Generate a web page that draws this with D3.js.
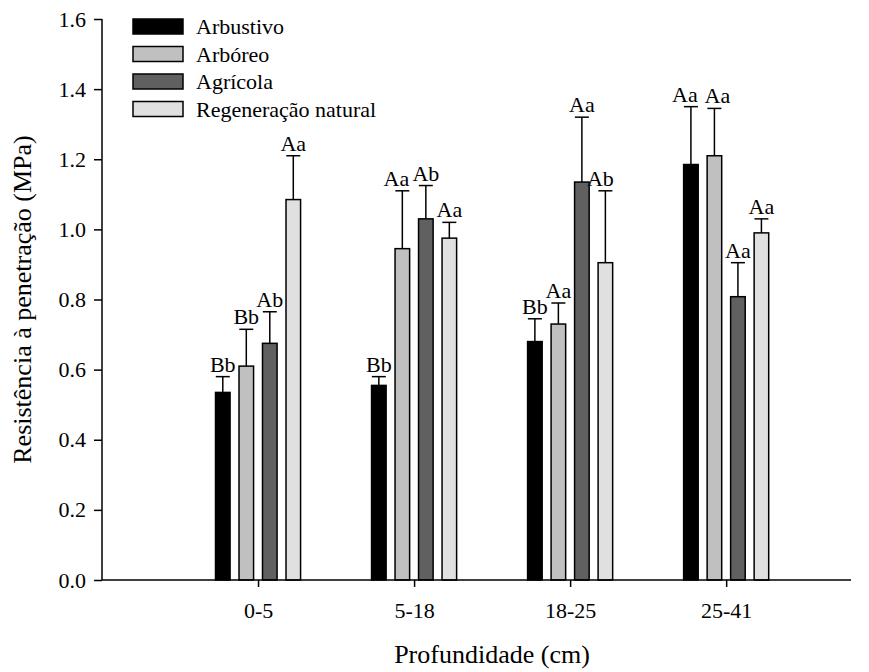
<!DOCTYPE html>
<html>
<head>
<meta charset="utf-8">
<script src="https://cdn.jsdelivr.net/npm/d3@7"></script>
<style>
  html, body { margin: 0; padding: 0; background: #fff; }
  svg text { font-family: "Liberation Serif", "Tinos", "DejaVu Serif", serif !important; fill: #000; }
</style>
</head>
<body>
<svg id="chart" width="869" height="672"></svg>
<script>
// ---- data ----
const categories = ["0-5", "5-18", "18-25", "25-41"];
const series = ["Arbustivo", "Arbóreo", "Agrícola", "Regeneração natural"];
const colors = ["#000000", "#c0c0c0", "#606060", "#e0e0e0"];
const arbustivo   = [0.535, 0.555, 0.680, 1.185];
const arboreo     = [0.610, 0.945, 0.730, 1.210];
const agricola    = [0.675, 1.030, 1.135, 0.808];
const regeneracao = [1.085, 0.975, 0.905, 0.990];
const errArbustivo   = [0.045, 0.025, 0.065, 0.165];
const errArboreo     = [0.105, 0.165, 0.060, 0.135];
const errAgricola    = [0.090, 0.095, 0.185, 0.097];
const errRegeneracao = [0.125, 0.045, 0.205, 0.040];
const lblArbustivo   = ["Bb", "Bb", "Bb", "Aa"];
const lblArboreo     = ["Bb", "Aa", "Aa", "Aa"];
const lblAgricola    = ["Ab", "Ab", "Aa", "Aa"];
const lblRegeneracao = ["Aa", "Aa", "Ab", "Aa"];
const yTicks = [0, 0.2, 0.4, 0.6, 0.8, 1.0, 1.2, 1.4, 1.6];
const xTitle = "Profundidade (cm)";
const yTitle = "Resistência à penetração (MPa)";

const values = [arbustivo, arboreo, agricola, regeneracao];
const errs = [errArbustivo, errArboreo, errAgricola, errRegeneracao];
const lbls = [lblArbustivo, lblArboreo, lblAgricola, lblRegeneracao];

// small horizontal nudges for labels that would otherwise collide (series index -> category index -> px)
const labelNudge = { "1-1": -6, "3-2": -5, "0-3": -6, "1-3": 3 };

const FONT = "'Liberation Serif', 'Tinos', 'DejaVu Serif', serif";
const svg = d3.select("#chart");
const x = d3.scaleLinear().domain([0, 4.8]).range([102, 851]);
const y = d3.scaleLinear().domain([0, 1.6]).range([580, 19]);
const inner = d3.scaleBand().domain(series).range([-47, 47]).paddingInner(0.38).paddingOuter(0.19);

const fs = 22;

const data = [];
categories.forEach((c, i) => series.forEach((s, j) => data.push({
  c, i, s, j, v: values[j][i], e: errs[j][i], l: lbls[j][i]
})));

function i2pos(i) { return i + 1; }
const cx = d => x(i2pos(d.i)) + inner(d.s) + inner.bandwidth() / 2;

const g = svg.append("g");
g.selectAll("rect.bar").data(data).join("rect")
  .attr("class", "bar")
  .attr("x", d => x(i2pos(d.i)) + inner(d.s))
  .attr("y", d => y(d.v))
  .attr("width", inner.bandwidth())
  .attr("height", d => y(0) - y(d.v))
  .attr("fill", d => colors[d.j])
  .attr("stroke", "#000").attr("stroke-width", 1.5);

g.selectAll("line.err").data(data).join("line")
  .attr("x1", cx).attr("x2", cx)
  .attr("y1", d => y(d.v)).attr("y2", d => y(d.v + d.e))
  .attr("stroke", "#000").attr("stroke-width", 1.5);
g.selectAll("line.cap").data(data).join("line")
  .attr("x1", d => cx(d) - 7).attr("x2", d => cx(d) + 7)
  .attr("y1", d => y(d.v + d.e)).attr("y2", d => y(d.v + d.e))
  .attr("stroke", "#000").attr("stroke-width", 1.5);
g.selectAll("text.lbl").data(data).join("text")
  .attr("x", d => cx(d) + (labelNudge[d.j + "-" + d.i] || 0))
  .attr("y", d => y(d.v + d.e) - 5)
  .attr("text-anchor", "middle").attr("font-size", fs).attr("font-family", FONT)
  .text(d => d.l);

const yAxis = d3.axisLeft(y).tickValues(yTicks).tickFormat(d3.format(".1f")).tickSize(8).tickPadding(8);
const ya = svg.append("g").attr("transform", "translate(102,0)").call(yAxis);
ya.attr("font-family", FONT).attr("font-size", fs);
ya.select(".domain").attr("d", `M0,${y(1.6)}V${y(0)}`).attr("stroke-width", 1.5);
ya.selectAll(".tick line").attr("stroke-width", 1.5);

const xAxis = d3.axisBottom(x).tickValues([1, 2, 3, 4]).tickFormat(d => categories[d - 1]).tickSize(7).tickPadding(15);
const xa = svg.append("g").attr("transform", `translate(0,${y(0)})`).call(xAxis);
xa.attr("font-family", FONT).attr("font-size", fs);
xa.select(".domain").attr("d", `M102,0H851`).attr("stroke-width", 1.5);
xa.selectAll(".tick line").attr("stroke-width", 1.5);

svg.append("text").attr("x", 492).attr("y", 663).attr("text-anchor", "middle")
  .attr("font-family", FONT).attr("font-size", 26).text(xTitle);
svg.append("text").attr("transform", `translate(31,${(y(0) + y(1.6)) / 2}) rotate(-90)`)
  .attr("text-anchor", "middle").attr("font-family", FONT).attr("font-size", 26).text(yTitle);

const lg = svg.append("g").attr("transform", "translate(133,19)");
const rows = lg.selectAll("g").data(series).join("g")
  .attr("transform", (d, i) => `translate(0,${i * 27.5})`);
rows.append("rect").attr("width", 50).attr("height", 15)
  .attr("fill", (d, i) => colors[i]).attr("stroke", "#000").attr("stroke-width", 1.5);
rows.append("text").attr("x", 63).attr("y", 15).attr("font-family", FONT).attr("font-size", fs).text(d => d);
</script>
</body>
</html>
